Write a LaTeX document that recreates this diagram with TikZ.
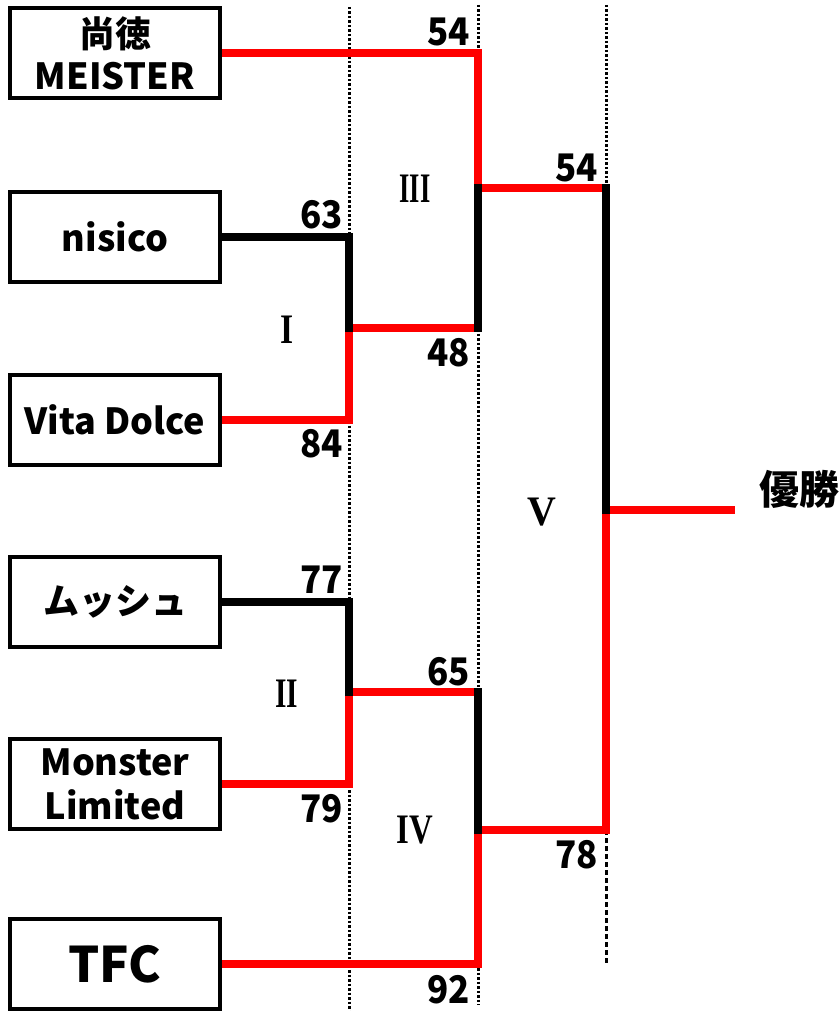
\documentclass[tikz,border=0pt]{standalone}
\usepackage{fontspec}
\usepackage{graphicx}
\newfontfamily\jp{Noto Sans CJK JP}
\newfontfamily\rnfont{Liberation Serif}
\newcommand\romnum[2]{\scalebox{#1}[1]{#2}}
\newcommand\scorenum[1]{\scalebox{0.92}[1]{#1}}
\tikzset{
  team/.style={draw, line width=4.5pt, minimum width=210pt, minimum height=90pt,
    inner sep=0pt, align=center},
  teamfont/.style={font=\jp\bfseries\fontsize{36}{44}\selectfont},
  winline/.style={line width=7.5pt, red, line cap=rect, line join=miter},
  loseline/.style={line width=7.5pt, black, line cap=rect, line join=miter},
  entry/.style={line width=7.5pt, line cap=butt, line join=miter},
  guide/.style={line width=3pt, dash pattern=on 2.5pt off 2pt},
  guidelong/.style={line width=3pt, dash pattern=on 5pt off 3pt},
  score/.style={inner sep=0pt, anchor=base east, font=\jp\bfseries\fontsize{38}{38}\selectfont},
  rnd/.style={inner sep=0pt, anchor=base, font=\rnfont\bfseries\fontsize{42}{42}\selectfont},
}
\begin{document}
\begin{tikzpicture}[x=1pt,y=-1pt]
\useasboundingbox (0,0) rectangle (839,1011);

% junction coordinates
\coordinate (g1t) at (349,7);   \coordinate (g1b) at (349,1011);
\coordinate (g2t) at (478,5);   \coordinate (g2b) at (478,1005);
\coordinate (g3t) at (606,5);
\coordinate (c1t) at (349,237); \coordinate (c1) at (349,328); \coordinate (c1b) at (349,420);
\coordinate (c2t) at (349,602); \coordinate (c2) at (349,692); \coordinate (c2b) at (349,784);
\coordinate (c3t) at (478,53);  \coordinate (c3) at (478,188); \coordinate (c3b) at (478,328);
\coordinate (c4t) at (478,692); \coordinate (c4) at (478,830); \coordinate (c4b) at (478,964);
\coordinate (c5t) at (606,188); \coordinate (c5) at (606,510); \coordinate (c5b) at (606,830);
\coordinate (g3b) at (606,965);
\coordinate (fin) at (735,510);

% guide lines
\draw[guide] (g1t) -- (g1b);
\draw[guide] (g2t) -- (g2b);
\draw[guide] (g3t) -- (c5t);
\draw[guidelong] (c5b) -- (g3b);

% team boxes
\node[team, teamfont, font=\jp\bfseries\fontsize{36}{42}\selectfont] (b1) at (115,53) {尚徳\\MEISTER};
\node[team, teamfont] (b2) at (115,237) {nisico};
\node[team, teamfont] (b3) at (115,420) {Vita Dolce};
\node[team, teamfont] (b4) at (115,602) {ムッシュ};
\node[team, teamfont] (b5) at (115,784) {Monster\\Limited};
\node[team, font=\jp\bfseries\fontsize{49}{49}\selectfont] (b6) at (115,964) {TFC};

% red (winning) lines
\draw[entry, red] (b1.east) -- (c3t) -- (c3);
\draw[entry, red] (b3.east) -- (c1b) -- (c1);
\draw[entry, red] (b5.east) -- (c2b) -- (c2);
\draw[entry, red] (b6.east) -- (c4b) -- (c4);
\draw[winline] (c1) -- (c3b);
\draw[winline] (c2) -- (c4t);
\draw[winline] (c3) -- (c5t);
\draw[winline] (c4) -- (c5b) -- (c5);
\draw[entry, red] (c5) -- (fin);

% black (losing) lines
\draw[entry, black] (b2.east) -- (c1t);
\draw[loseline] (c1t) -- (c1);
\draw[entry, black] (b4.east) -- (c2t);
\draw[loseline] (c2t) -- (c2);
\draw[loseline] (c3b) -- (c3);
\draw[loseline] (c4t) -- (c4);
\draw[loseline] (c5t) -- (c5);

% scores
\node[score] (s1) at (470,46)  {\scorenum{54}};
\node[score] (s2) at (343,228) {\scorenum{63}};
\node[score] (s3) at (343,457) {\scorenum{84}};
\node[score] (s4) at (470,366) {\scorenum{48}};
\node[score] (s5) at (598,182) {\scorenum{54}};
\node[score] (s6) at (343,593) {\scorenum{77}};
\node[score] (s7) at (343,822) {\scorenum{79}};
\node[score] (s8) at (470,685) {\scorenum{65}};
\node[score] (s9) at (598,868) {\scorenum{78}};
\node[score] (s10) at (470,1003) {\scorenum{92}};

% round labels
\node[rnd] (r1) at (287,343) {\romnum{0.8}{I}};
\node[rnd] (r2) at (287,707) {\romnum{0.7}{II}};
\node[rnd] (r3) at (415,203) {\romnum{0.63}{III}};
\node[rnd] (r4) at (415,843) {\romnum{0.78}{IV}};
\node[rnd] (r5) at (542,525) {\romnum{0.95}{V}};

% champion
\node[inner sep=0pt, anchor=base, font=\jp\bfseries\fontsize{40}{40}\selectfont] (champ) at (799,504) {優勝};
\end{tikzpicture}
\end{document}
